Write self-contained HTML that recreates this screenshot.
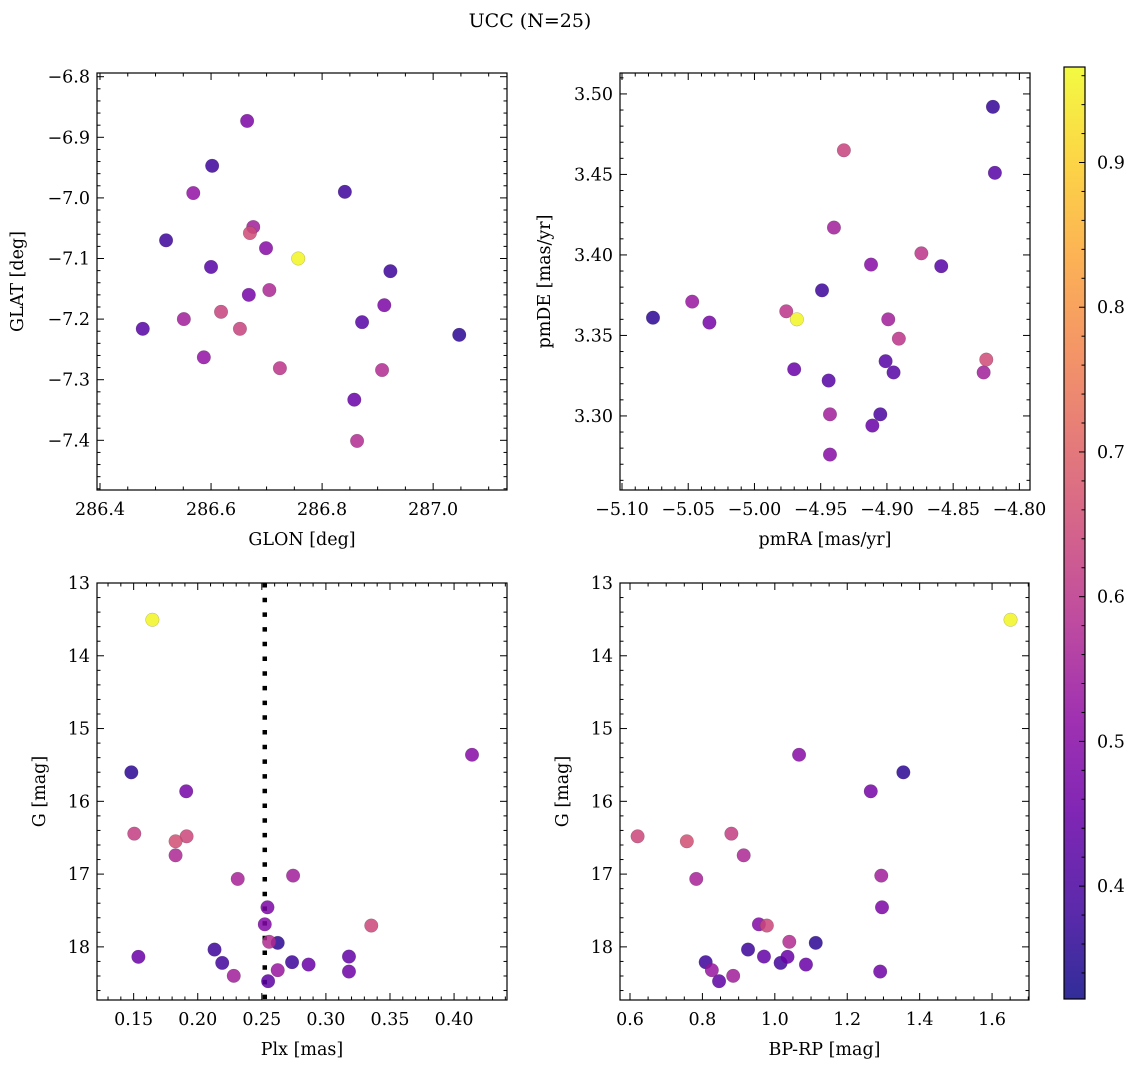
<!DOCTYPE html>
<html>
<head>
<meta charset="utf-8">
<style>
html,body{margin:0;padding:0;background:#fff;}
svg{display:block;font-family:"DejaVu Serif","Liberation Serif",serif;}
</style>
</head>
<body>
<svg id="fig" width="1136" height="1067" viewBox="0 0 1136 1067" xmlns="http://www.w3.org/2000/svg">
<text x="530" y="27" text-anchor="middle" font-size="19">UCC (N=25)</text>
</svg>
<script>
// ---- Data ----
const glon = [286.665,286.602,286.519,286.568,286.841,286.676,286.670,286.699,286.757,286.600,286.923,286.668,286.705,286.618,286.912,286.477,286.551,286.652,286.872,287.047,286.587,286.724,286.908,286.858,286.863];
const glat = [-6.873,-6.947,-7.070,-6.992,-6.990,-7.048,-7.058,-7.083,-7.100,-7.114,-7.121,-7.160,-7.152,-7.188,-7.177,-7.216,-7.200,-7.216,-7.205,-7.226,-7.263,-7.281,-7.284,-7.333,-7.401];
const probPos = [0.48,0.38,0.38,0.52,0.38,0.55,0.65,0.5,0.96,0.42,0.38,0.47,0.57,0.63,0.48,0.42,0.55,0.63,0.42,0.36,0.52,0.6,0.58,0.45,0.58];

const pmra = [-4.820,-4.8185,-4.9325,-4.940,-4.912,-4.874,-4.859,-4.949,-5.0766,-5.047,-5.034,-4.976,-4.968,-4.899,-4.891,-4.901,-4.895,-4.970,-4.944,-4.825,-4.827,-4.943,-4.905,-4.911,-4.943];
const pmde = [3.492,3.451,3.465,3.417,3.394,3.401,3.393,3.378,3.361,3.371,3.358,3.365,3.360,3.360,3.348,3.334,3.327,3.329,3.322,3.335,3.327,3.301,3.301,3.294,3.276];
const probPm = [0.37,0.42,0.63,0.55,0.5,0.6,0.42,0.38,0.36,0.53,0.47,0.6,0.96,0.55,0.6,0.42,0.42,0.45,0.42,0.65,0.55,0.55,0.4,0.45,0.5];

const plx  = [0.1646,0.1482,0.414,0.191,0.1505,0.1913,0.1827,0.1827,0.2312,0.2744,0.2544,0.2523,0.3354,0.2557,0.2624,0.2131,0.318,0.1537,0.2736,0.2191,0.2865,0.2624,0.318,0.2281,0.2549];
const gmag = [13.505,15.602,15.36,15.862,16.444,16.481,16.549,16.742,17.066,17.021,17.456,17.690,17.707,17.93,17.945,18.037,18.133,18.137,18.21,18.22,18.243,18.32,18.339,18.398,18.472];
const bprp = [1.651,1.355,1.067,1.265,0.880,0.621,0.757,0.914,0.783,1.294,1.296,0.956,0.978,1.040,1.113,0.926,0.970,1.035,0.809,1.016,1.086,0.826,1.291,0.885,0.846];
const probCmd = [0.96,0.36,0.5,0.47,0.62,0.64,0.66,0.57,0.56,0.55,0.48,0.49,0.64,0.58,0.36,0.38,0.44,0.45,0.38,0.39,0.45,0.53,0.46,0.55,0.43];

const plxLine = 0.2523;
const cbarTicks = [0.4,0.5,0.6,0.7,0.8,0.9];
const vmin = 0.322, vmax = 0.966;

// ---- helpers ----
const NS = "http://www.w3.org/2000/svg";
const svg = document.getElementById('fig');
const FS = 17.5;
function mk(tag, attrs, parent){
  const e = document.createElementNS(NS, tag);
  for (const k in attrs) e.setAttribute(k, attrs[k]);
  (parent||svg).appendChild(e);
  return e;
}
const plasmaStops = ["#0d0887","#41049d","#6a00a8","#8f0da4","#b12a90","#cc4778","#e16462","#f2844b","#fca636","#fcce25","#f0f921"];
function hex2rgb(h){return [parseInt(h.substr(1,2),16),parseInt(h.substr(3,2),16),parseInt(h.substr(5,2),16)];}
function plasma(t){
  t = Math.max(0, Math.min(1, t));
  const f = t*10, i = Math.min(9, Math.floor(f)), u = f - i;
  const a = hex2rgb(plasmaStops[i]), b = hex2rgb(plasmaStops[i+1]);
  return "rgb(" + a.map((v,k)=>Math.round(v+(b[k]-v)*u)).join(",") + ")";
}
function colorOf(p){return plasma((p - vmin)/(vmax - vmin));}
function fmt(v, dec){
  const s = Math.abs(v).toFixed(dec);
  return (v < -1e-9 ? "\u2212" : "") + s;
}

function panel(cfg){
  const {x0,y0,x1,y1,xmin,xmax,ymin,ymax,invertY,name} = cfg;
  const sx = v => x0 + (v - xmin)/(xmax - xmin)*(x1 - x0);
  const sy = invertY ? (v => y0 + (v - ymin)/(ymax - ymin)*(y1 - y0))
                     : (v => y1 - (v - ymin)/(ymax - ymin)*(y1 - y0));
  const g = mk('g', {});
  
  
  const clipId = name + '-clip';
  const cp = mk('clipPath', {id: clipId}, g);
  mk('rect', {x:x0, y:y0, width:x1-x0, height:y1-y0}, cp);
  const marks = mk('g', {'clip-path':'url(#'+clipId+')'}, g);
  
  
  if (cfg.vline !== undefined){
    const ln = mk('line', {x1:sx(cfg.vline), x2:sx(cfg.vline), y1:y0, y2:y1, stroke:'#000', 'stroke-width':4.5, 'stroke-dasharray':'4.5 10.2'}, marks);
    
    
  }
  const idx = cfg.xs.map((_,i)=>i).sort((a,b)=>cfg.ps[a]-cfg.ps[b]);
  idx.forEach(i=>{
    const c = mk('circle', {cx:sx(cfg.xs[i]), cy:sy(cfg.ys[i]), r:6.8, fill:colorOf(cfg.ps[i]), 'fill-opacity':0.85, stroke:'rgba(60,60,60,0.35)', 'stroke-width':0.5}, marks);
    
    
  });
  const fr = mk('rect', {x:x0, y:y0, width:x1-x0, height:y1-y0, fill:'none', stroke:'#000', 'stroke-width':1.2}, g);
  
  
  const xt = mk('g', {}, g);
  
  
  const eps = 1e-9;
  const xs0 = Math.ceil((xmin - eps)/cfg.xminor)*cfg.xminor;
  for (let v = xs0; v <= xmax + eps; v += cfg.xminor){
    const isMaj = Math.abs(v/cfg.xstep - Math.round(v/cfg.xstep)) < 1e-6;
    const L = isMaj ? 7 : 3.5, px = sx(v);
    mk('line', {x1:px, x2:px, y1:y1, y2:y1-L, stroke:'#000', 'stroke-width':1}, xt);
    mk('line', {x1:px, x2:px, y1:y0, y2:y0+L, stroke:'#000', 'stroke-width':1}, xt);
    if (isMaj){
      const t = mk('text', {x:px, y:y1+25, 'text-anchor':'middle', 'font-size':FS}, xt);
      t.textContent = fmt(Math.round(v/cfg.xstep)*cfg.xstep, cfg.xdec);
      
      
    }
  }
  const yt = mk('g', {}, g);
  
  
  const lo = Math.min(ymin,ymax), hi = Math.max(ymin,ymax);
  const ys0 = Math.ceil((lo - eps)/cfg.yminor)*cfg.yminor;
  for (let v = ys0; v <= hi + eps; v += cfg.yminor){
    const isMaj = Math.abs(v/cfg.ystep - Math.round(v/cfg.ystep)) < 1e-6;
    const L = isMaj ? 7 : 3.5, py = sy(v);
    mk('line', {x1:x0, x2:x0+L, y1:py, y2:py, stroke:'#000', 'stroke-width':1}, yt);
    mk('line', {x1:x1, x2:x1-L, y1:py, y2:py, stroke:'#000', 'stroke-width':1}, yt);
    if (isMaj){
      const t = mk('text', {x:x0-7, y:py+6, 'text-anchor':'end', 'font-size':FS}, yt);
      t.textContent = fmt(Math.round(v/cfg.ystep)*cfg.ystep, cfg.ydec);
      
      
    }
  }
  const xl = mk('text', {x:(x0+x1)/2, y:y1+55, 'text-anchor':'middle', 'font-size':FS}, g);
  xl.textContent = cfg.xlabel;
  
  
  const yl = mk('text', {x:cfg.ylx, y:(y0+y1)/2, 'text-anchor':'middle', 'font-size':FS, transform:'rotate(-90 '+cfg.ylx+' '+((y0+y1)/2)+')'}, g);
  yl.textContent = cfg.ylabel;
  
  
}

panel({name:'glon-glat-panel', x0:97,y0:73,x1:507,y1:490, xmin:286.3946,xmax:287.133, ymin:-7.482,ymax:-6.7939,
  xs:glon, ys:glat, ps:probPos, xstep:0.2, xminor:0.05, xdec:1, ystep:0.1, yminor:0.02, ydec:1,
  xlabel:'GLON [deg]', ylabel:'GLAT [deg]', ylx:23});
panel({name:'pm-panel', x0:620,y0:73,x1:1030,y1:490, xmin:-5.1015,xmax:-4.792, ymin:3.254,ymax:3.513,
  xs:pmra, ys:pmde, ps:probPm, xstep:0.05, xminor:0.01, xdec:2, ystep:0.05, yminor:0.01, ydec:2,
  xlabel:'pmRA [mas/yr]', ylabel:'pmDE [mas/yr]', ylx:550});
panel({name:'plx-g-panel', x0:97,y0:583,x1:507,y1:1000, xmin:0.1214,xmax:0.4413, ymin:13.0,ymax:18.73, invertY:true,
  xs:plx, ys:gmag, ps:probCmd, xstep:0.05, xminor:0.01, xdec:2, ystep:1, yminor:0.2, ydec:0, vline:plxLine,
  xlabel:'Plx [mas]', ylabel:'G [mag]', ylx:45});
panel({name:'cmd-panel', x0:620,y0:583,x1:1029,y1:1000, xmin:0.5724,xmax:1.702, ymin:13.0,ymax:18.73, invertY:true,
  xs:bprp, ys:gmag, ps:probCmd, xstep:0.2, xminor:0.05, xdec:1, ystep:1, yminor:0.2, ydec:0,
  xlabel:'BP-RP [mag]', ylabel:'G [mag]', ylx:568});

// ---- colorbar ----
(function(){
  const cx0=1064, cx1=1085, cy0=67, cy1=999;
  const g = mk('g', {});
  
  
  const defs = mk('defs', {}, g);
  const lg = mk('linearGradient', {id:'plasmaGrad', x1:0, y1:1, x2:0, y2:0}, defs);
  plasmaStops.forEach((c,i)=>mk('stop', {offset:(i/10), 'stop-color':c, 'stop-opacity':0.85}, lg));
  const bar = mk('rect', {x:cx0, y:cy0, width:cx1-cx0, height:cy1-cy0, fill:'url(#plasmaGrad)', stroke:'#000', 'stroke-width':1.2}, g);
  
  
  const sy = v => cy1 - (v - vmin)/(vmax - vmin)*(cy1 - cy0);
  for (let k = Math.ceil(vmin/0.02); k*0.02 <= vmax; k++){
    const v = k*0.02, py = sy(v);
    const maj = (k % 5) === 0;
    mk('line', {x1:cx1, x2:cx1-(maj?6:3.5), y1:py, y2:py, stroke:'#000', 'stroke-width':1}, g);
  }
  cbarTicks.forEach(v=>{
    const t = mk('text', {x:cx1+12, y:sy(v)+6, 'font-size':FS}, g);
    t.textContent = v.toFixed(1);
    
    
  });
})();
</script>
</body>
</html>
